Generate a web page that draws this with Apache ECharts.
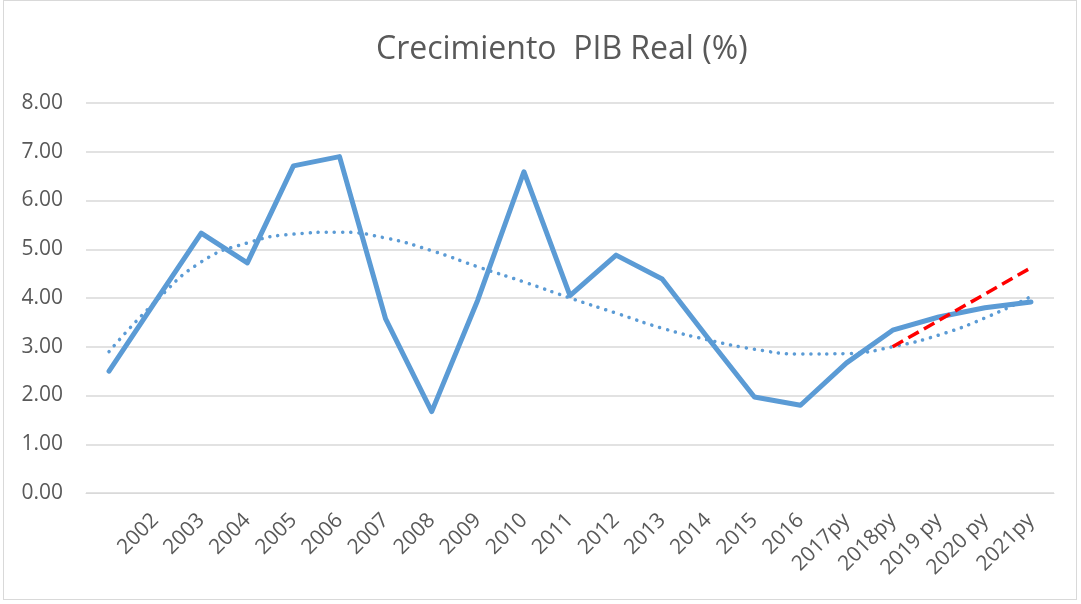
<!DOCTYPE html>
<html>
<head>
<meta charset="utf-8">
<script src="https://cdn.jsdelivr.net/npm/echarts@6/dist/echarts.min.js"></script>
<style>
html,body{margin:0;padding:0;background:#fff;}
#frame{position:absolute;left:3px;top:0px;width:1074px;height:600px;border:1px solid #d9d9d9;box-sizing:border-box;}
#c{position:absolute;left:0;top:0;width:1081px;height:604px;}
</style>
</head>
<body>
<div id="frame"></div>
<div id="c"></div>
<script>
const categories = ['', '2002', '2003', '2004', '2005', '2006', '2007', '2008', '2009', '2010', '2011', '2012', '2013', '2014', '2015', '2016', '2017py', '2018py', '2019 py', '2020 py', '2021py'];
const growth = [2.50, 3.92, 5.33, 4.72, 6.71, 6.90, 3.57, 1.67, 3.96, 6.59, 4.05, 4.88, 4.39, 3.17, 1.97, 1.80, 2.67, 3.34, 3.61, 3.80, 3.92];
const trend = [2.90, 3.92, 4.74, 5.13, 5.31, 5.35, 5.23, 4.97, 4.64, 4.33, 4.00, 3.69, 3.38, 3.14, 2.95, 2.85, 2.86, 3.00, 3.24, 3.59, 4.03];
const projection = [null, null, null, null, null, null, null, null, null, null, null, null, null, null, null, null, null, 3.00, null, null, 4.62];
const yTicks = [0, 1, 2, 3, 4, 5, 6, 7, 8];

const chart = echarts.init(document.getElementById('c'), null, {renderer: 'canvas'});
const font = '"Open Sans", sans-serif';
chart.setOption({
  animation: false,
  title: {
    text: 'Crecimiento  PIB Real (%)',
    left: 371,
    top: 29,
    textStyle: {fontFamily: font, fontSize: 32, fontWeight: 'normal', color: '#595959'}
  },
  grid: {left: 86, right: 27, top: 103, bottom: 111, containLabel: false},
  xAxis: {
    type: 'category',
    data: categories,
    boundaryGap: true,
    axisLine: {show: true, lineStyle: {color: '#d9d9d9', width: 1}},
    axisTick: {show: false},
    axisLabel: {rotate: 45, interval: 0, margin: 24, fontFamily: font, fontSize: 21, color: '#595959'}
  },
  yAxis: {
    type: 'value',
    min: yTicks[0],
    max: yTicks[yTicks.length - 1],
    interval: 1,
    axisLine: {show: false},
    axisTick: {show: false},
    splitLine: {lineStyle: {color: '#d9d9d9', width: 1.5}},
    axisLabel: {margin: 23, fontFamily: font, fontSize: 21, color: '#595959', formatter: v => v.toFixed(2)}
  },
  series: [
    {
      type: 'line', data: growth, symbol: 'none',
      lineStyle: {color: '#5B9BD5', width: 5, cap: 'round', join: 'round'},
      z: 3
    },
    {
      type: 'line', data: trend, symbol: 'none', smooth: true,
      lineStyle: {color: '#5B9BD5', width: 3.5, type: [0.1, 8], cap: 'round'},
      z: 2
    },
    {
      type: 'line', data: projection, symbol: 'none', connectNulls: true,
      lineStyle: {color: '#FF0000', width: 3.5, type: [12, 6]},
      z: 4
    }
  ]
});
</script>
</body>
</html>
